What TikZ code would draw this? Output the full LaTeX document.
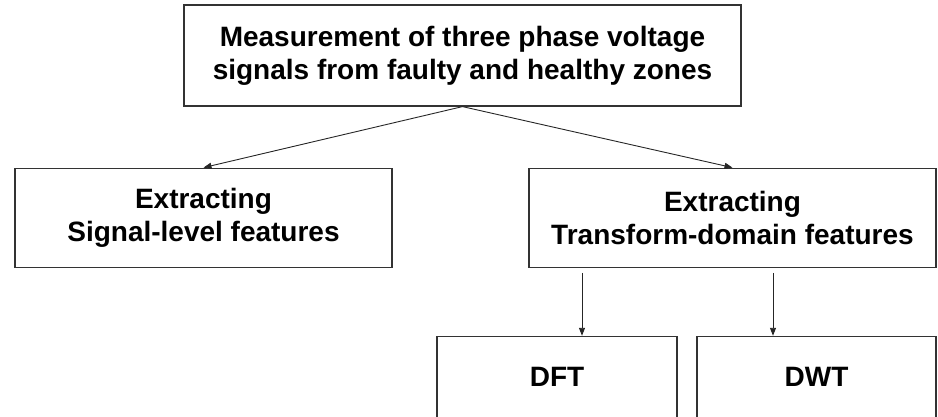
\documentclass[tikz,border=0pt]{standalone}
\usepackage{fontspec}
\setmainfont{Liberation Sans}
\usepackage{tikz}
\usetikzlibrary{arrows.meta, positioning}

\begin{document}
\begin{tikzpicture}[x=1pt, y=1pt,
    process/.style={rectangle, draw=black!80, line width=1.2pt,
                    align=center, inner sep=2pt,
                    font=\fontsize{28}{33}\selectfont\bfseries},
    arrow/.style={-{Triangle[length=8pt, width=6pt]}, line width=0.9pt, black!85}
]
\useasboundingbox (0,0) rectangle (938,-416);
\node (meas)  [process, minimum width=557pt, minimum height=101pt] at (462.5,-55.5)
              {Measurement of three phase voltage\\signals from faulty and healthy zones};
\node (sig)   [process, below=61pt of meas, xshift=-259pt,
               minimum width=377pt, minimum height=99pt]
              {Extracting\\Signal-level features};
\node (trans) [process, below=61pt of meas, xshift=270pt,
               minimum width=407pt, minimum height=99pt]
              {Extracting\\Transform-domain features};
\node (dft)   [process, below=68pt of trans, xshift=-175.5pt,
               minimum width=240pt, minimum height=81pt] {DFT};
\node (dwt)   [process, below=68pt of trans, xshift=84pt,
               minimum width=239pt, minimum height=81pt] {DWT};
\coordinate (dftin) at ([xshift=25pt]dft.north);
\coordinate (dwtin) at ([xshift=-43.5pt]dwt.north);

\draw [arrow] (meas.south) -- (sig.north);
\draw [arrow] (meas.south) -- (trans.north);
\draw [arrow, shorten <=5pt] (dftin |- trans.south) -- (dftin);
\draw [arrow, shorten <=5pt] (dwtin |- trans.south) -- (dwtin);
\end{tikzpicture}
\end{document}
